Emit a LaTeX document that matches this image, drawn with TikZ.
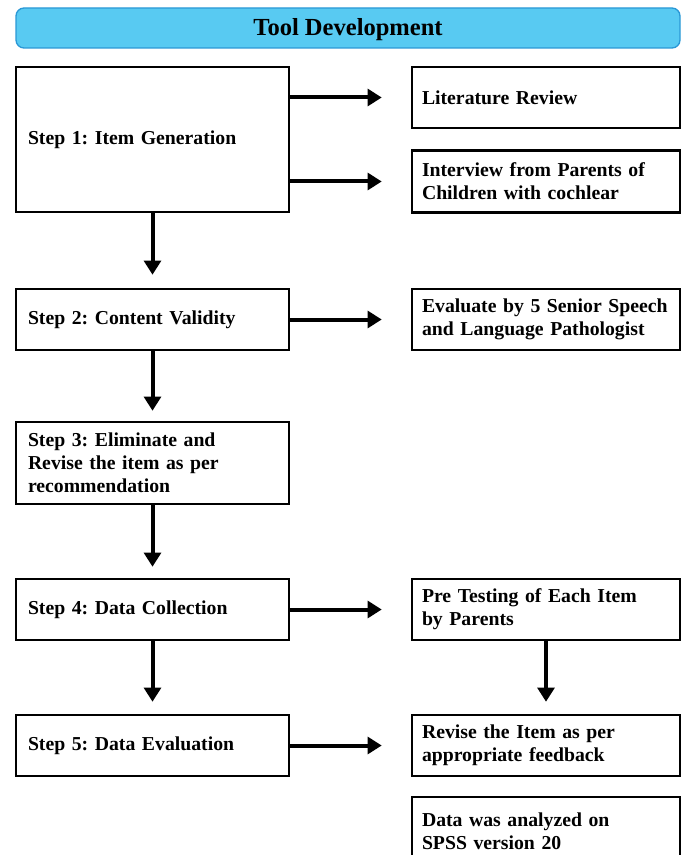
\documentclass[tikz,border=0pt]{standalone}
\usepackage{fontspec}
\setmainfont{Liberation Serif}
\frenchspacing
\usetikzlibrary{arrows.meta}
\definecolor{hdrfill}{HTML}{58CAF2}
\definecolor{hdrline}{HTML}{2A98D6}
\tikzset{
  box/.style={draw=black, line width=1.9pt, fill=white, rectangle, inner ysep=0pt,
    font=\bfseries\fontsize{14.8pt}{17.2pt}\selectfont\frenchspacing, align=left},
  lbox/.style={box, minimum width=204.75pt, text width=186.75pt, inner xsep=9pt},
  rbox/.style={box, minimum width=201pt, text width=186pt, inner xsep=7.5pt},
  arr/.style={line width=3pt, -{Triangle[length=10.5pt,width=12.5pt]}},
}
\begin{document}
\begin{tikzpicture}[x=0.75pt,y=-0.75pt]
\useasboundingbox (0,0) rectangle (683,855);
\clip (0,0) rectangle (683,855);
\node[draw=hdrline, fill=hdrfill, line width=1pt, rounded corners=6pt, inner ysep=0pt,
  text height=15pt, text depth=3pt,
  minimum width=498pt, minimum height=30pt, font=\bfseries\fontsize{18.4pt}{20pt}\selectfont]
  (hdr) at (348,28) {Tool Development};

\node[lbox, minimum height=108.75pt] (s1) at (152.5,139.5) {Step 1: Item Generation};
\node[lbox, minimum height=45.75pt] (s2) at (152.5,319.5) {Step 2: Content Validity};
\node[lbox, minimum height=61.5pt] (s3) at (152.5,463) {Step 3: Eliminate and\\Revise the item as per\\recommendation};
\node[lbox, minimum height=45.75pt] (s4) at (152.5,609.5) {Step 4: Data Collection};
\node[lbox, minimum height=45.75pt] (s5) at (152.5,745.5) {Step 5: Data Evaluation};

\node[rbox, minimum height=45.75pt] (r1) at (546,97.5) {Literature Review};
\node[rbox, minimum height=46.5pt] (r2) at (546,181.5) {Interview from Parents of\\Children with cochlear};
\node[rbox, minimum height=45.75pt] (r3) at (546,319.5) {Evaluate by 5 Senior Speech\\and Language Pathologist};
\node[rbox, minimum height=45.75pt] (r4) at (546,609.5) {Pre Testing of Each Item\\by Parents};
\node[rbox, minimum height=45.75pt] (r5) at (546,745.5) {Revise the Item as per\\appropriate feedback};
\node[rbox, minimum height=51pt] (r6) at (546,831) {Data was analyzed on\\SPSS version 20};

\draw[arr, shorten >=9.75pt] (s1.south) -- (s2.north);
\draw[arr, shorten >=7.5pt] (s2.south) -- (s3.north);
\draw[arr, shorten >=8.25pt] (s3.south) -- (s4.north);
\draw[arr, shorten >=9pt] (s4.south) -- (s5.north);
\draw[arr, shorten >=9pt] (r4.south) -- (r5.north);

\draw[arr, shorten >=21.75pt] (r1.west -| s1.east) -- (r1.west);
\draw[arr, shorten >=21.75pt] (r2.west -| s1.east) -- (r2.west);
\draw[arr, shorten >=21.75pt] (s2.east) -- (r3.west);
\draw[arr, shorten >=21.75pt] (s4.east) -- (r4.west);
\draw[arr, shorten >=21.75pt] (s5.east) -- (r5.west);
\end{tikzpicture}
\end{document}
